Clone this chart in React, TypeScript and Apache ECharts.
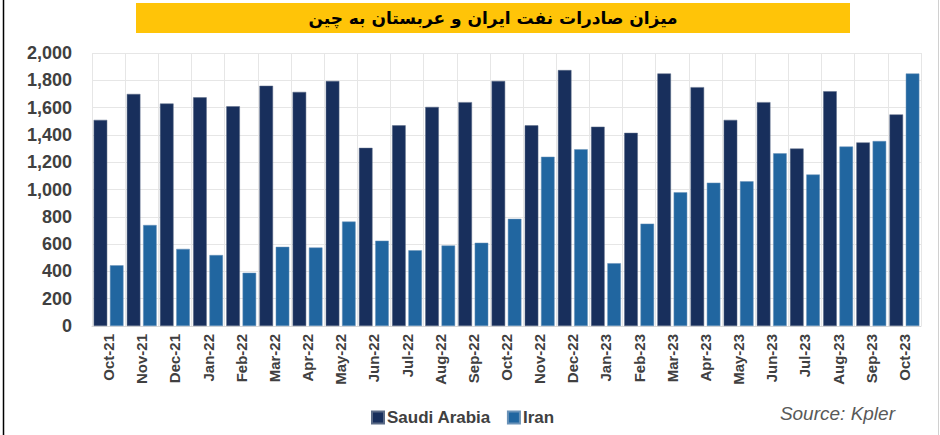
import React, { useEffect, useRef } from "react";
import * as echarts from "echarts";

const categories = [
  "Oct-21", "Nov-21", "Dec-21", "Jan-22", "Feb-22", "Mar-22", "Apr-22", "May-22", "Jun-22",
  "Jul-22", "Aug-22", "Sep-22", "Oct-22", "Nov-22", "Dec-22", "Jan-23", "Feb-23", "Mar-23",
  "Apr-23", "May-23", "Jun-23", "Jul-23", "Aug-23", "Sep-23", "Oct-23",
];
const saudiArabia = [
  1510, 1700, 1630, 1675, 1610, 1760, 1715, 1795, 1305, 1470, 1605, 1640, 1795, 1470, 1875,
  1460, 1415, 1850, 1750, 1510, 1640, 1300, 1720, 1345, 1550,
];
const iran = [
  445, 740, 565, 520, 390, 580, 575, 765, 625, 555, 590, 610, 785, 1240, 1295, 460, 750, 980,
  1050, 1060, 1265, 1110, 1315, 1355, 1850,
];
const titleText = "میزان صادرات نفت ایران و عربستان به چین";
const sourceText = "Source: Kpler";

export default function App() {
  const ref = useRef<HTMLDivElement>(null);
  useEffect(() => {
    if (!ref.current) return;
    const chart = echarts.init(ref.current, null, { renderer: "svg" });
    chart.setOption({
      animation: false,
      backgroundColor: "#ffffff",
      textStyle: { fontFamily: "Liberation Sans, Arial, sans-serif" },
      grid: { left: 92, right: 19, top: 53, bottom: 109, containLabel: false },
      legend: {
        data: ["Saudi Arabia", "Iran"],
        left: 366,
        top: 404,
        itemWidth: 12,
        itemHeight: 12,
        itemGap: 16,
        icon: "rect",
        textStyle: { fontSize: 17, fontWeight: "bold", color: "#404040", padding: [0, 0, 0, -2] },
      },
      xAxis: {
        type: "category",
        data: categories,
        axisLine: { show: true, lineStyle: { color: "#d9d9d9" } },
        axisTick: { show: false },
        splitLine: { show: true, lineStyle: { color: "#e6e6e6", width: 1 } },
        axisLabel: {
          rotate: 90,
          interval: 0,
          fontSize: 15,
          fontWeight: "bold",
          color: "#404040",
          margin: 8,
        },
      },
      yAxis: {
        type: "value",
        min: 0,
        max: 2000,
        interval: 200,
        axisLine: { show: false },
        axisTick: { show: false },
        splitLine: { show: true, lineStyle: { color: "#e6e6e6", width: 1 } },
        axisLabel: {
          fontSize: 18,
          fontWeight: "bold",
          color: "#404040",
          margin: 20,
          formatter: (v: number) => v.toLocaleString("en-US"),
        },
      },
      series: [
        {
          name: "Saudi Arabia",
          type: "bar",
          data: saudiArabia,
          barGap: "20%",
          barCategoryGap: "10%",
          itemStyle: { color: "#182f5c", borderColor: "#5a6a86", borderWidth: 0.5 },
        },
        {
          name: "Iran",
          type: "bar",
          data: iran,
          itemStyle: { color: "#2166a0", borderColor: "#6a92b8", borderWidth: 0.5 },
        },
      ],
      graphic: [
        {
          type: "rect",
          shape: { x: 136, y: 3, width: 714, height: 30 },
          style: { fill: "#ffc408" },
        },
        {
          type: "text",
          x: 493,
          y: 18,
          style: {
            text: titleText,
            fontSize: 17,
            fontWeight: "bold",
            fontFamily: "DejaVu Sans, Noto Sans, sans-serif",
            fill: "#000000",
            align: "center",
            verticalAlign: "middle",
          },
        },
        {
          type: "text",
          x: 895,
          y: 413,
          style: {
            text: sourceText,
            fontSize: 19,
            fontStyle: "italic",
            fill: "#595959",
            align: "right",
            verticalAlign: "middle",
          },
        },
        {
          type: "line",
          shape: { x1: 3.5, y1: 0, x2: 3.5, y2: 435 },
          style: { stroke: "#000000", lineWidth: 1.5 },
        },
        {
          type: "line",
          shape: { x1: 938.5, y1: 0, x2: 938.5, y2: 435 },
          style: { stroke: "#d0d0d0", lineWidth: 1 },
        },
      ],
    });
    return () => chart.dispose();
  }, []);
  return <div ref={ref} style={{ width: 940, height: 435, position: "fixed", left: 0, top: 0 }} />;
}
